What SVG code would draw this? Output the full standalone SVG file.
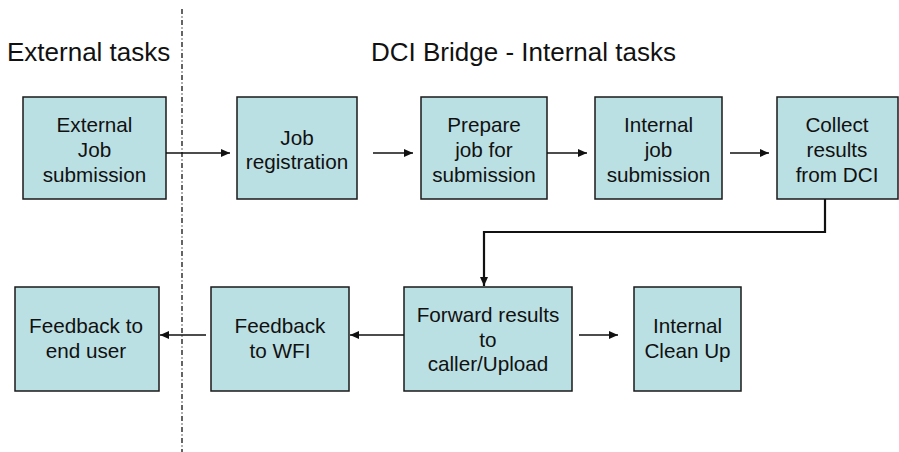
<svg xmlns="http://www.w3.org/2000/svg" width="899" height="452" viewBox="0 0 899 452">
<style>
.box{fill:#BBE0E3;stroke:#1a1a1a;stroke-width:1.5}
.t{font-family:"Liberation Sans",Arial,sans-serif;font-size:20.7px;fill:#111;text-anchor:middle}
.h{font-family:"Liberation Sans",Arial,sans-serif;font-size:26px;fill:#111}
.c{fill:none;stroke:#111;stroke-width:1.5}
</style>
<defs>
<marker id="ah" markerWidth="10" markerHeight="8" refX="9" refY="4" orient="auto" markerUnits="userSpaceOnUse">
<path d="M0,0 L9,4 L0,8 Z" fill="#111"/>
</marker>
</defs>
<rect width="899" height="452" fill="#fff"/>
<line x1="182" y1="9" x2="182" y2="452" stroke="#111" stroke-width="1.3" stroke-dasharray="5,2.5,1,2.5"/>
<text class="h" x="7" y="61">External tasks</text>
<text class="h" x="371" y="61">DCI Bridge - Internal tasks</text>
<g id="n1"><rect class="box" x="23" y="97" width="143" height="102"/><text class="t" x="94.5" y="132">External</text><text class="t" x="94.5" y="157">Job</text><text class="t" x="94.5" y="182">submission</text></g>
<g id="n2"><rect class="box" x="237" y="97" width="120" height="102"/><text class="t" x="297" y="145">Job</text><text class="t" x="297" y="169">registration</text></g>
<g id="n3"><rect class="box" x="421" y="97" width="126" height="102"/><text class="t" x="484" y="132">Prepare</text><text class="t" x="484" y="157">job for</text><text class="t" x="484" y="182">submission</text></g>
<g id="n4"><rect class="box" x="595" y="97" width="127" height="102"/><text class="t" x="658.5" y="132">Internal</text><text class="t" x="658.5" y="157">job</text><text class="t" x="658.5" y="182">submission</text></g>
<g id="n5"><rect class="box" x="777" y="97" width="121" height="102"/><text class="t" x="837" y="132">Collect</text><text class="t" x="837" y="157">results</text><text class="t" x="837" y="182">from DCI</text></g>
<g id="n6"><rect class="box" x="15" y="287" width="144" height="104"/><text class="t" x="86" y="333">Feedback to</text><text class="t" x="86" y="358">end user</text></g>
<g id="n7"><rect class="box" x="211" y="287" width="138" height="104"/><text class="t" x="280" y="333">Feedback</text><text class="t" x="280" y="358">to WFI</text></g>
<g id="n8"><rect class="box" x="404" y="287" width="168" height="104"/><text class="t" x="488" y="322">Forward results</text><text class="t" x="488" y="347">to</text><text class="t" x="488" y="371">caller/Upload</text></g>
<g id="n9"><rect class="box" x="634" y="287" width="107" height="104"/><text class="t" x="687.5" y="333">Internal</text><text class="t" x="687.5" y="358">Clean Up</text></g>
<g id="connectors">
<line class="c" x1="166" y1="153" x2="230" y2="153" marker-end="url(#ah)"/>
<line class="c" x1="373" y1="153" x2="413" y2="153" marker-end="url(#ah)"/>
<line class="c" x1="547" y1="153" x2="587" y2="153" marker-end="url(#ah)"/>
<line class="c" x1="730" y1="153" x2="769" y2="153" marker-end="url(#ah)"/>
<polyline fill="none" stroke="#111" stroke-width="2.2" points="825,199 825,232 484,232 484,286" marker-end="url(#ah)"/>
<line class="c" x1="404" y1="335" x2="350" y2="335" marker-end="url(#ah)"/>
<line class="c" x1="206" y1="335" x2="160" y2="335" marker-end="url(#ah)"/>
<line class="c" x1="579" y1="335" x2="618" y2="335" marker-end="url(#ah)"/>
</g>
</svg>
